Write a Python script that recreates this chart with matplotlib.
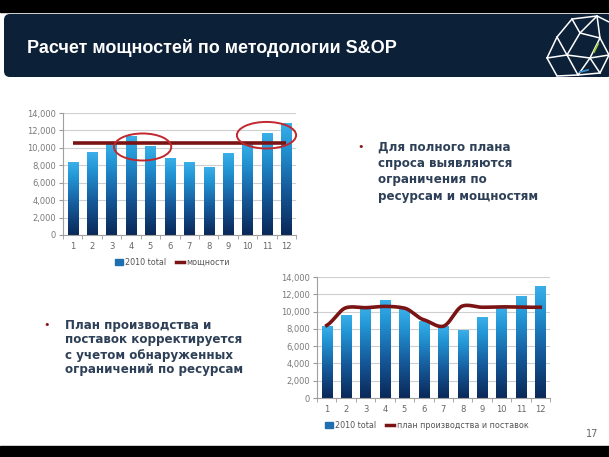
import numpy as np
import matplotlib
matplotlib.use('Agg')
import matplotlib.pyplot as plt
from matplotlib.colors import LinearSegmentedColormap
from matplotlib.patches import Ellipse, FancyBboxPatch, Rectangle
from matplotlib.lines import Line2D

# ---------------- data ----------------
months = ['1', '2', '3', '4', '5', '6', '7', '8', '9', '10', '11', '12']
total_2010 = [8300, 9500, 10500, 11300, 10200, 8800, 8300, 7800, 9300, 10450, 11700, 12850]
capacity = [10600] * 12
plan = [8400, 10450, 10450, 10600, 10400, 9050, 8300, 10650, 10500, 10550, 10500, 10500]
y_ticks = [0, 2000, 4000, 6000, 8000, 10000, 12000, 14000]

title = 'Расчет мощностей по методологии S&OP'
bullet_top = ['Для полного плана', 'спроса выявляются', 'ограничения по', 'ресурсам и мощностям']
bullet_bottom = ['План производства и', 'поставок корректируется', 'с учетом обнаруженных',
                 'ограничений по ресурсам']

W, H = 609, 457
fig = plt.figure(figsize=(W / 100, H / 100), dpi=100)
fig.patch.set_facecolor('white')

bar_cmap = LinearSegmentedColormap.from_list(
    'bar', [(0, '#0a2858'), (0.4, '#15599a'), (0.8, '#2396d6'), (1, '#3aafe8')])
grad = np.linspace(0, 1, 256).reshape(-1, 1)
text_gray = '#7a7a7a'
line_red = '#7a1414'


def px_axes(x0, y0, x1, y1, **kw):
    # place axes by pixel box (top-left origin)
    return fig.add_axes([x0 / W, 1 - y1 / H, (x1 - x0) / W, (y1 - y0) / H], **kw)


def smooth(xs, ys, n=24, k=0.6):
    # hermite curve through the points, softened tangents (like excel "smoothed line")
    xs = np.asarray(xs, float)
    ys = np.asarray(ys, float)
    m = np.gradient(ys, xs) * k
    t = np.linspace(0, 1, n)
    h00 = 2 * t ** 3 - 3 * t ** 2 + 1
    h10 = t ** 3 - 2 * t ** 2 + t
    h01 = -2 * t ** 3 + 3 * t ** 2
    h11 = t ** 3 - t ** 2
    out_x, out_y = [], []
    for i in range(len(xs) - 1):
        d = xs[i + 1] - xs[i]
        out_x.extend(xs[i] + t * d)
        out_y.extend(h00 * ys[i] + h10 * d * m[i] + h01 * ys[i + 1] + h11 * d * m[i + 1])
    return out_x, out_y


def bar_chart(ax, values):
    x = np.arange(len(values))
    w = 0.52
    for xi, v in zip(x, values):
        ax.imshow(grad, extent=[xi - w / 2, xi + w / 2, 0, v], origin='lower',
                  aspect='auto', cmap=bar_cmap, zorder=2)
    ax.set_xlim(-0.5, len(values) - 0.5)
    ax.set_ylim(0, 14000)
    ax.set_yticks(y_ticks)
    ax.set_yticklabels([f'{t:,}' for t in y_ticks])
    ax.set_xticks(x)
    ax.set_xticklabels(months)
    ax.set_xticks(np.arange(-0.5, len(values)), minor=True)
    ax.tick_params(axis='x', which='major', length=0, pad=5, labelsize=6, labelcolor='#666666')
    ax.tick_params(axis='x', which='minor', length=3, color='#999999', direction='out')
    ax.tick_params(axis='y', length=3, color='#999999', pad=2, labelsize=6, labelcolor=text_gray)
    ax.grid(axis='y', color='#cfcfcf', lw=0.8, zorder=0)
    ax.set_axisbelow(True)
    for s in ['top', 'right']:
        ax.spines[s].set_visible(False)
    ax.spines['left'].set_color('#a0a0a0')
    ax.spines['bottom'].set_color('#a0a0a0')
    ax.patch.set_alpha(0)
    return x


# ---------------- background / banner ----------------
bg = fig.add_axes([0, 0, 1, 1])
bg.set_xlim(0, W)
bg.set_ylim(H, 0)
bg.axis('off')
bg.add_patch(Rectangle((0, 0), W, 12, color='black'))
bg.add_patch(Rectangle((0, 446), W, 11, color='black'))
bg.add_patch(FancyBboxPatch((4, 14), W, 63, boxstyle='round,pad=0,rounding_size=6',
                            facecolor='#0c2038', edgecolor='none'))
bg.text(27, 48, title, color='white', fontsize=13, fontweight='bold',
        family='Liberation Sans', va='center', ha='left')

# rough logo: white wireframe globe
nodes = {'A': (572, 19), 'B': (597, 16), 'C': (609, 22), 'D': (557, 37), 'E': (580, 33),
         'F': (600, 38), 'G': (547, 58), 'H': (567, 55), 'I': (590, 58), 'J': (609, 55),
         'K': (557, 76), 'L': (578, 75), 'M': (600, 73)}
edges = ['AB', 'BC', 'AD', 'AE', 'EB', 'DG', 'DH', 'EH', 'EF', 'FB', 'FI', 'HI', 'GH',
         'GK', 'HL', 'KL', 'IL', 'IM', 'LM', 'FJ', 'IJ', 'MJ']
for e in edges:
    (xa, ya), (xb, yb) = nodes[e[0]], nodes[e[1]]
    bg.plot([xa, xb], [ya, yb], color='white', lw=1.1, solid_capstyle='round')
bg.plot([598, 594], [44, 52], color='#9ccc3c', lw=1.3)
bg.plot([580, 588], [72, 70], color='#3a8fd0', lw=1.3)

# bullets
txt_color = '#2e4057'
for i, line in enumerate(bullet_top):
    bg.text(378, 147 + i * 16.5, line, color=txt_color, fontsize=8.6, fontweight='bold',
            family='DejaVu Sans', va='center', ha='left')
bg.text(361, 147, '•', color='#8b1a1a', fontsize=8, va='center', ha='center')
for i, line in enumerate(bullet_bottom):
    bg.text(65, 325 + i * 15, line, color=txt_color, fontsize=8.6, fontweight='bold',
            family='DejaVu Sans', va='center', ha='left')
bg.text(47, 325, '•', color='#8b1a1a', fontsize=8, va='center', ha='center')
bg.text(598, 434, '17', color='#666666', fontsize=7, va='center', ha='right')

# ---------------- chart 1 ----------------
ax1 = px_axes(63, 113, 296, 235)
x = bar_chart(ax1, total_2010)
ax1.plot(x, capacity, color=line_red, lw=2.6, zorder=3, solid_capstyle='butt')
ax1.add_patch(Ellipse((3.6, 10100), 2.95, 3100, fill=False, ec='#c0282e', lw=1.4,
                      zorder=4, clip_on=False))
ax1.add_patch(Ellipse((9.98, 11450), 3.05, 3050, fill=False, ec='#c0282e', lw=1.4,
                      zorder=4, clip_on=False))
h1 = [Rectangle((0, 0), 1, 1, color='#1d6fb0'), Line2D([], [], color=line_red, lw=2.5)]
ax1.legend(h1, ['2010 total', 'мощности'], loc='upper center', bbox_to_anchor=(0.47, -0.13),
           ncol=2, frameon=False, fontsize=5.8, handlelength=1.0, handleheight=0.7,
           columnspacing=1.2, handletextpad=0.3, labelcolor='#555555')

# ---------------- chart 2 ----------------
ax2 = px_axes(317, 277, 550, 398)
x = bar_chart(ax2, total_2010)
sx, sy = smooth(x, plan)
ax2.plot(sx, sy, color=line_red, lw=2.6, zorder=3)
h2 = [Rectangle((0, 0), 1, 1, color='#1d6fb0'), Line2D([], [], color=line_red, lw=2.5)]
ax2.legend(h2, ['2010 total', 'план производства и поставок'], loc='upper center',
           bbox_to_anchor=(0.47, -0.13), ncol=2, frameon=False, fontsize=5.8,
           handlelength=1.0, handleheight=0.7, columnspacing=1.2, handletextpad=0.3,
           labelcolor='#555555')

fig.savefig('out.png', dpi=100)
